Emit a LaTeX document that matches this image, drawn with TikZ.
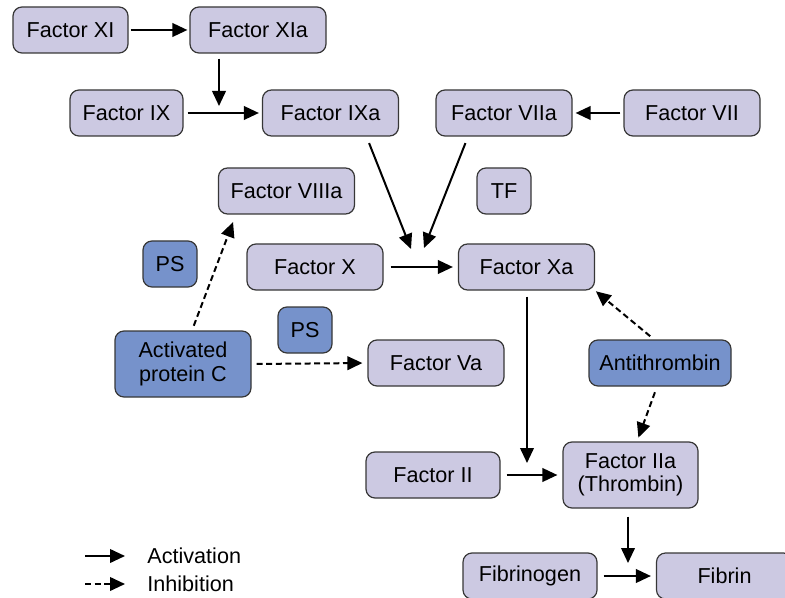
\documentclass[tikz,border=0pt]{standalone}
\usepackage{fontspec}
\setmainfont{Liberation Sans}
\definecolor{facfill}{RGB}{204,201,226}
\definecolor{regfill}{RGB}{118,146,203}
\definecolor{edgegray}{RGB}{55,55,55}
\usetikzlibrary{arrows.meta}

\tikzset{
  fac/.style={draw=edgegray, line width=0.6pt, fill=facfill, rounded corners=4.5pt,
    minimum width=68pt, minimum height=23pt, inner sep=0pt, align=center,
    font=\fontsize{10.8}{11.8}\selectfont},
  reg/.style={fac, fill=regfill},
  act/.style={line width=1pt, -{Triangle[length=7.5pt,width=6.8pt]}},
  inh/.style={act, dash pattern=on 3pt off 1.8pt},
  legtext/.style={anchor=west, inner sep=0pt, font=\fontsize{10.8}{12}\selectfont}
}

\begin{document}
\begin{tikzpicture}[x=0.5pt,y=0.5pt,yscale=-1]
	\useasboundingbox (0,0) rectangle (785,598);
	
	% Top row
	\node [fac, minimum width=57.5pt] (XI) at (70.5,30) {Factor XI};
	\node [fac] (XIa) at (258,30) {Factor XIa};
	% Second row
	\node [fac, minimum width=56.5pt] (IX) at (126.5,113) {Factor IX};
	\node [fac] (IXa) at (330.5,113) {Factor IXa};
	\node [fac] (VIIa) at (504,113) {Factor VIIa};
	\node [fac] (VII) at (692,113) {Factor VII};
	% Third row
	\node [fac] (VIIIa) at (286.5,191) {Factor VIIIa};
	\node [fac, minimum width=27pt] (TF) at (504,191) {TF};
	% Factor X row
	\node [reg, minimum width=27pt] (PSa) at (170,264) {PS};
	\node [fac] (X) at (315,267) {Factor X};
	\node [fac] (Xa) at (526.5,267) {Factor Xa};
	% Regulators
	\node [reg, minimum width=27pt] (PSb) at (305,330) {PS};
	\node [reg, minimum height=33pt] (APC) at (183,364) {Activated\\protein C};
	\node [fac] (Va) at (436,363) {Factor Va};
	\node [reg, minimum width=71pt] (AT) at (660,363) {Antithrombin};
	% Thrombin row
	\node [fac, minimum width=67pt] (II) at (433,475) {Factor II};
	\node [fac, minimum width=67.5pt, minimum height=33pt] (IIa) at (630.5,475) {Factor IIa\\(Thrombin)};
	% Bottom row
	\node [fac, minimum width=67pt] (Fbg) at (530,576) {Fibrinogen};
	\node [fac] (Fbn) at (724.5,576) {Fibrin};
	
	% free ends of the junction arrows
	\coordinate (ixjoin) at (219,106);
	\coordinate (xajoinA) at (411,249);
	\coordinate (xajoinB) at (424,248);
	\coordinate (iijoin) at (527,463);
	\coordinate (fbjoin) at (628,563);
	
	% Activation arrows
	\draw [act, shorten <=1pt, shorten >=1pt] (XI.east) -- (XIa.west);
	\draw [act, shorten <=2.5pt] (ixjoin |- XIa.south) -- (ixjoin);
	\draw [act, shorten <=2pt, shorten >=1.5pt] (IX.east) -- (IXa.west);
	\draw [act, shorten <=1.5pt, shorten >=1.5pt] (VII.west) -- (VIIa.east);
	\draw [act, shorten <=3.5pt] ([xshift=18pt]IXa.south) -- (xajoinA);
	\draw [act, shorten <=3.5pt] ([xshift=-18pt]VIIa.south) -- (xajoinB);
	\draw [act, shorten <=3.5pt, shorten >=2.5pt] (X.east) -- (Xa.west);
	\draw [act, shorten <=3pt] (iijoin |- Xa.south) -- (iijoin);
	\draw [act, shorten <=3pt, shorten >=2.5pt] (II.east) -- (IIa.west |- II.east);
	\draw [act, shorten <=4pt] (fbjoin |- IIa.south) -- (fbjoin);
	\draw [act, shorten <=3pt, shorten >=2.5pt] (Fbg.east) -- (Fbn.west);
	
	% Inhibition arrows
	\draw [inh, shorten <=2.5pt, shorten >=0.5pt] ([xshift=-3pt]AT.north) -- (Xa.south east);
	\draw [inh, shorten <=3pt, shorten >=2pt] ([xshift=-1.5pt]AT.south) -- ([xshift=3.25pt]IIa.north);
	\draw [inh, shorten <=2.5pt, shorten >=4pt] ([xshift=4.5pt]APC.north) -- ([xshift=9pt]VIIIa.south west);
	\draw [inh, shorten <=2.5pt, shorten >=2.5pt] (APC.east) -- (Va.west);
	
	% Legend
	\coordinate (legA) at (85,556);
	\coordinate (legAend) at (125,556);
	\coordinate (legI) at (85,584);
	\coordinate (legIend) at (125,584);
	\draw [act] (legA) -- (legAend);
	\draw [inh] (legI) -- (legIend);
	\node [legtext] (legAtext) at (147,556) {Activation};
	\node [legtext] (legItext) at (147,584) {Inhibition};
	
\end{tikzpicture}
\end{document}
